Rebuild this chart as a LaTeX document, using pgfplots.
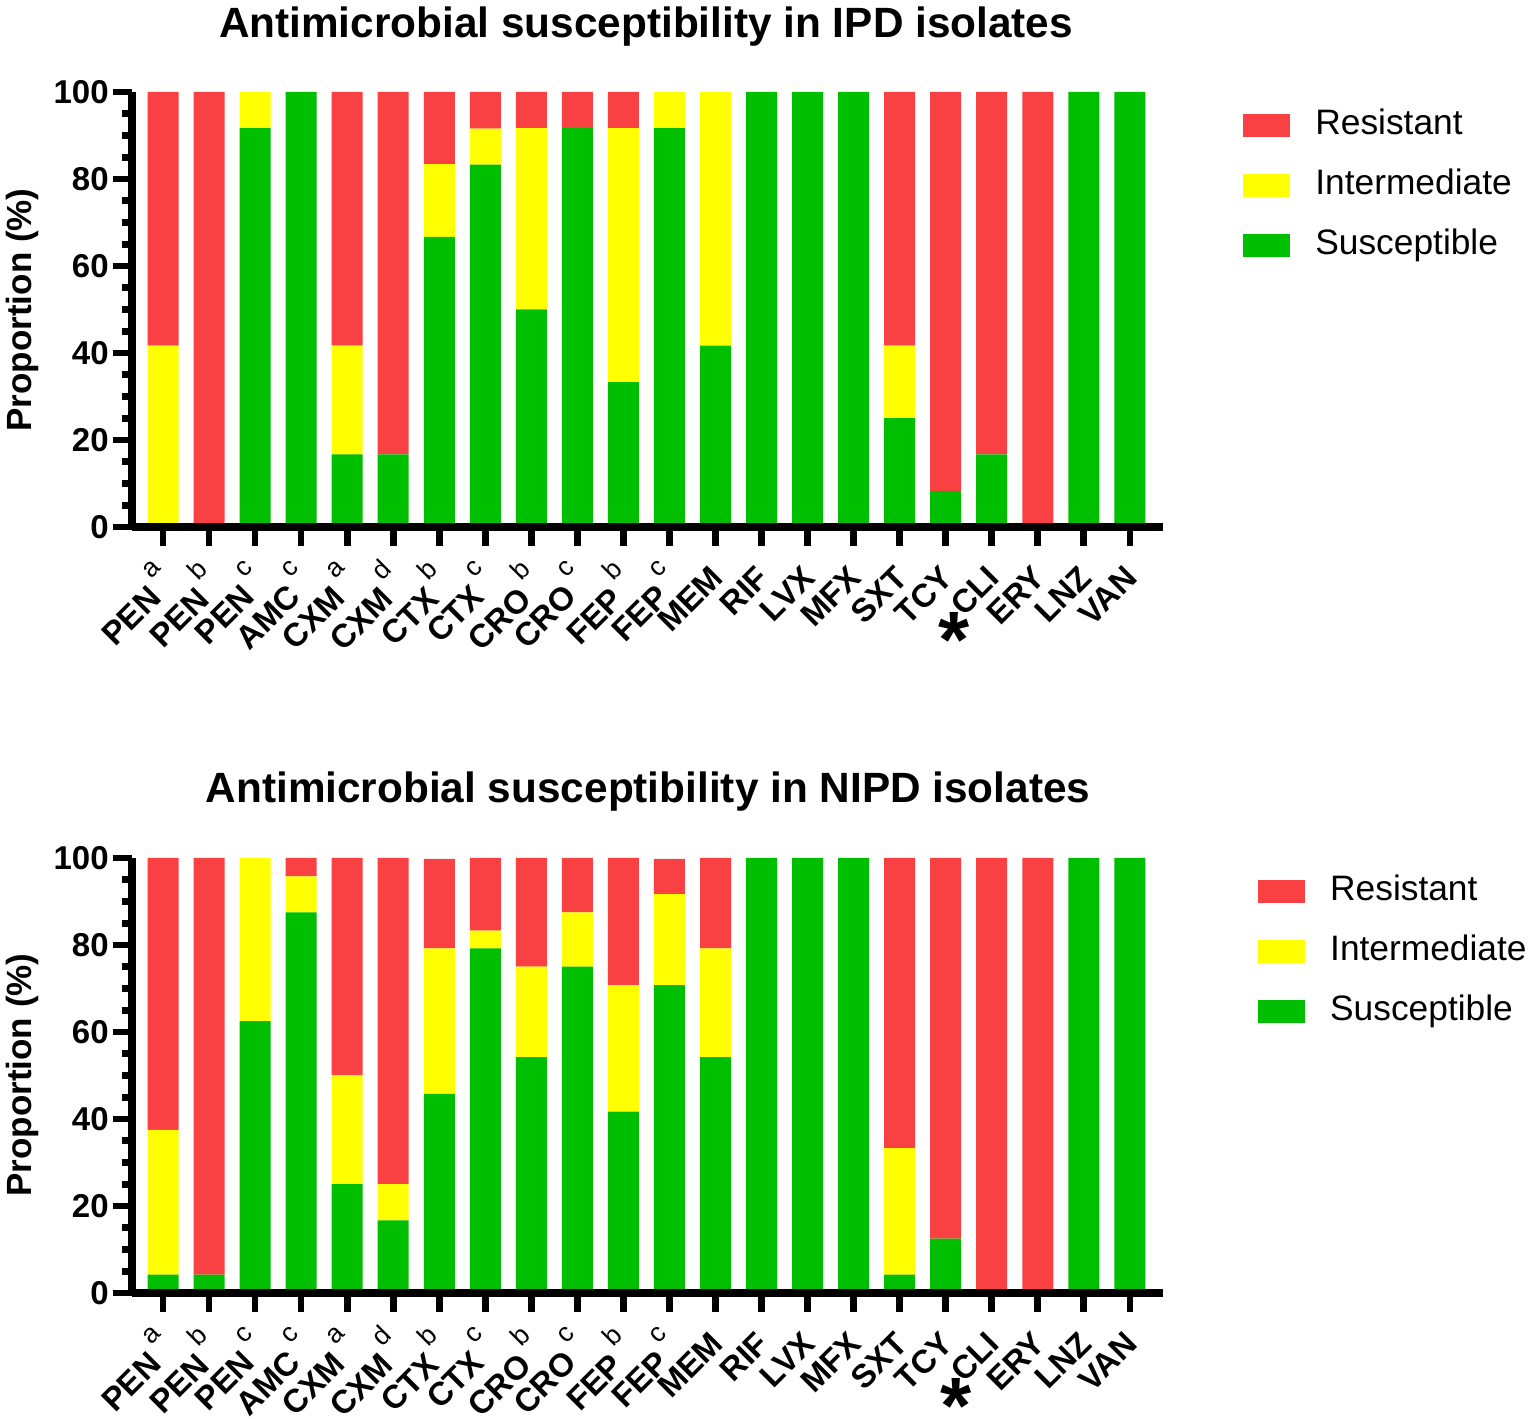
\documentclass[border=0pt]{standalone}
\usepackage{fontspec}
\setmainfont{Liberation Sans}
\usepackage{pgfplots}
\pgfplotsset{compat=1.18}
\usepackage{pgfplotstable}
\definecolor{cR}{RGB}{249,64,66}
\definecolor{cI}{RGB}{255,255,0}
\definecolor{cS}{RGB}{0,190,0}
\newcommand\supl[1]{\hspace{0.18em}\raisebox{0.7em}{\fontsize{8}{8}\selectfont\mdseries #1}}

\pgfplotstableread{
x S I R
0 0 41.7 58.3
1 0 0 100
2 91.7 8.3 0
3 100 0 0
4 16.7 25 58.3
5 16.7 0 83.3
6 66.7 16.7 16.6
7 83.3 8.3 8.4
8 50 41.7 8.3
9 91.7 0 8.3
10 33.3 58.4 8.3
11 91.7 8.3 0
12 41.7 58.3 0
13 100 0 0
14 100 0 0
15 100 0 0
16 25 16.7 58.3
17 8.3 0 91.7
18 16.7 0 83.3
19 0 0 100
20 100 0 0
21 100 0 0
}\ipd

\pgfplotstableread{
x S I R
0 4.2 33.3 62.5
1 4.2 0 95.8
2 62.5 37.5 0
3 87.5 8.3 4.2
4 25 25 50
5 16.7 8.3 75
6 45.8 33.4 20.6
7 79.2 4.1 16.7
8 54.2 20.8 25
9 75 12.5 12.5
10 41.7 29.1 29.2
11 70.8 20.9 8.1
12 54.2 25 20.8
13 100 0 0
14 100 0 0
15 100 0 0
16 4.2 29.1 66.7
17 12.5 0 87.5
18 0 0 100
19 0 0 100
20 100 0 0
21 100 0 0
}\nipd

\pgfplotsset{
  amr/.style={
    scale only axis, width=309.3pt, height=130.5pt,
    ybar stacked, bar width=9.3pt,
    xmin=-0.674, xmax=21.72, ymin=0, ymax=100,
    enlargelimits=false, clip=false,
    axis x line*=bottom, axis y line*=left,
    axis line style={line width=2.2pt, -},
    axis on top,
    xtick={0,...,21},
    xticklabels={PEN\supl{a},PEN\supl{b},PEN\supl{c},AMC\supl{c},CXM\supl{a},CXM\supl{d},CTX\supl{b},CTX\supl{c},CRO\supl{b},CRO\supl{c},FEP\supl{b},FEP\supl{c},MEM,RIF,LVX,MFX,SXT,TCY,CLI,ERY,LNZ,VAN},
    ytick={0,20,40,60,80,100},
    minor ytick={5,10,15,25,30,35,45,50,55,65,70,75,85,90,95},
    tick align=outside,
    major tick length=5.8pt, minor tick length=3.1pt,
    every tick/.style={black, line width=2pt},
    /pgf/number format/assume math mode=true,
    yticklabel style={font=\fontsize{9.9}{10}\selectfont\bfseries, inner sep=1pt},
    xticklabel style={xshift=0.6pt, yshift=-7.6pt, rotate=45, anchor=east, font=\fontsize{9.8}{10}\selectfont\bfseries, inner sep=0pt},
    legend cell align=left,
    legend image code/.code={\fill[##1] (0pt,-3.45pt) rectangle (14.1pt,3.45pt);},
    reverse legend,
    legend style={draw=none, fill=none, inner sep=0pt, outer sep=0pt,
      anchor=north west, font=\fontsize{10.6}{12}\selectfont,
      row sep=8.2pt, column sep=7.6pt,
      nodes={inner sep=0pt, text height=7.6pt, text depth=2.2pt}},
  }
}

\begin{document}
\begin{tikzpicture}
\path[use as bounding box] (0,0) rectangle (460.8pt,425.7pt);

\begin{axis}[amr, at={(39.6pt,267.6pt)}, anchor=south west,
  legend style={at={(axis description cs:1.0776,0.96)}}]
\addplot[fill=cS, draw=none] table[x=x, y=S] {\ipd};
\addlegendentry{Susceptible}
\addplot[fill=cI, draw=none] table[x=x, y=I] {\ipd};
\addlegendentry{Intermediate}
\addplot[fill=cR, draw=none] table[x=x, y=R] {\ipd};
\addlegendentry{Resistant}
\node[inner sep=0pt, font=\fontsize{24}{24}\selectfont\bfseries] at ([xshift=-11.4pt,yshift=-34pt]axis cs:18,0) {*};
\end{axis}

\begin{axis}[amr, at={(39.6pt,37.8pt)}, anchor=south west,
  legend style={at={(axis description cs:1.092,0.96)}}]
\addplot[fill=cS, draw=none] table[x=x, y=S] {\nipd};
\addlegendentry{Susceptible}
\addplot[fill=cI, draw=none] table[x=x, y=I] {\nipd};
\addlegendentry{Intermediate}
\addplot[fill=cR, draw=none] table[x=x, y=R] {\nipd};
\addlegendentry{Resistant}
\node[inner sep=0pt, font=\fontsize{24}{24}\selectfont\bfseries] at ([xshift=-10.6pt,yshift=-34pt]axis cs:18,0) {*};
\end{axis}

\node[anchor=base, font=\fontsize{12.7}{13}\selectfont\bfseries] at (193.8pt,414.3pt) {Antimicrobial susceptibility in IPD isolates};
\node[anchor=base, font=\fontsize{12.7}{13}\selectfont\bfseries] at (194.4pt,184.8pt) {Antimicrobial susceptibility in NIPD isolates};
\node[rotate=90, font=\fontsize{10.5}{11}\selectfont\bfseries] at (6.6pt,332.7pt) {Proportion (\%)};
\node[rotate=90, font=\fontsize{10.5}{11}\selectfont\bfseries] at (6.6pt,103.2pt) {Proportion (\%)};
\end{tikzpicture}
\end{document}
